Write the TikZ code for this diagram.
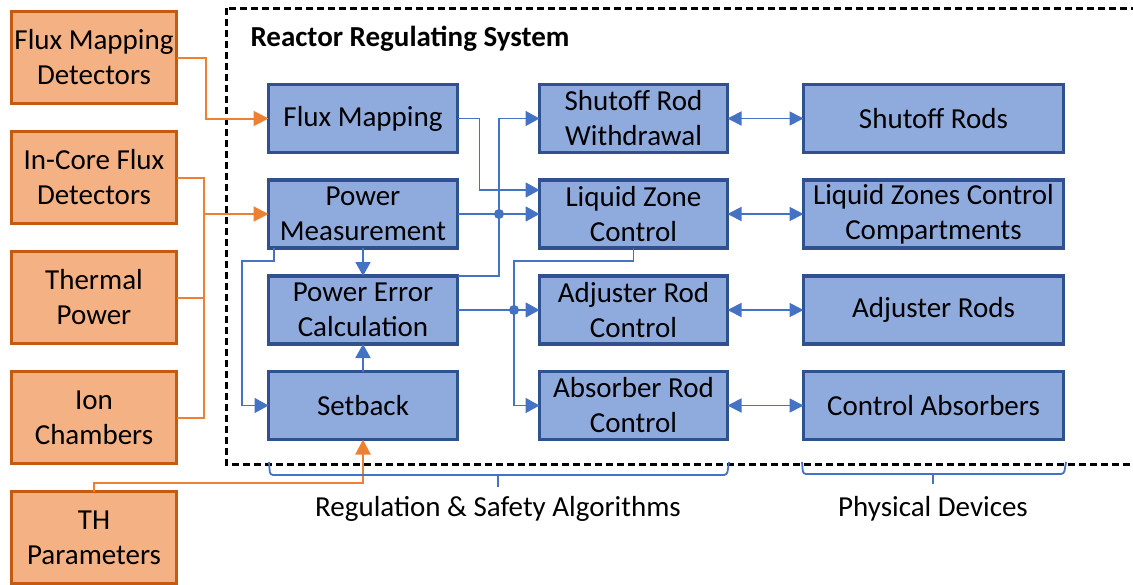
\documentclass[tikz,border=0pt]{standalone}
\usepackage{fontspec}
\setmainfont{Carlito}
\usetikzlibrary{arrows.meta}
\definecolor{ofill}{HTML}{F4B183}
\definecolor{oborder}{HTML}{C55A11}
\definecolor{oline}{HTML}{EE8033}
\definecolor{bfill}{HTML}{8FAADC}
\definecolor{bborder}{HTML}{2F528F}
\definecolor{bline}{HTML}{4472C4}
\tikzset{
  inbox/.style={draw=oborder, fill=ofill, line width=3.5pt, minimum width=165pt,
    minimum height=92pt, inner sep=0pt, outer sep=0pt, align=center},
  algbox/.style={draw=bborder, fill=bfill, line width=3.5pt, minimum height=68pt,
    inner sep=0pt, outer sep=0pt, align=center},
  colA/.style={algbox, minimum width=189pt},
  colB/.style={algbox, minimum width=188pt},
  colC/.style={algbox, minimum width=260pt},
  oconn/.style={draw=oline, line width=2pt},
  oarrow/.style={oconn, -{Triangle[length=15pt,width=15pt]}},
  bconn/.style={draw=bline, line width=1.8pt},
  barrow/.style={bconn, -{Triangle[length=14pt,width=15pt]}},
  bdouble/.style={bconn, {Triangle[length=14pt,width=14pt]}-{Triangle[length=14pt,width=14pt]}},
  junction/.style={circle, fill=bline, inner sep=0pt, minimum size=10pt},
  bracket/.style={draw=bline, line width=1.8pt, rounded corners=3pt},
}
\begin{document}
\begin{tikzpicture}[x=1pt, y=-1pt, font=\fontsize{29}{35}\selectfont]
\useasboundingbox (0,0) rectangle (1133,584);

% regulating system boundary
\draw[line width=3pt, dash pattern=on 7pt off 4pt] (226,8) rectangle (1150,464);
\node[anchor=base west, font=\fontsize{29}{35}\selectfont\bfseries] (title) at (247,46) {Reactor Regulating System};

% input signals
\node[inbox] (fmd) at (94,57.5) {Flux Mapping\\Detectors};
\node[inbox] (icf) at (94,177.5) {In-Core Flux\\Detectors};
\node[inbox] (tp) at (94,297.5) {Thermal\\Power};
\node[inbox] (ic) at (94,417.5) {Ion\\Chambers};
\node[inbox] (th) at (94,537.5) {TH\\Parameters};

% regulation and safety algorithms
\node[colA] (fm) at (363,118.5) {Flux Mapping};
\node[colA] (pm) at (363,214) {Power\\Measurement};
\node[colA] (pe) at (363,310) {Power Error\\Calculation};
\node[colA] (sb) at (363,405.5) {Setback};

\node[colB] (sr) at (633.5,118.5) {Shutoff Rod\\Withdrawal};
\node[colB] (lz) at (633.5,214) {Liquid Zone\\Control};
\node[colB] (ar) at (633.5,310) {Adjuster Rod\\Control};
\node[colB] (ab) at (633.5,405.5) {Absorber Rod\\Control};

% physical devices
\node[colC] (sro) at (933.5,118.5) {Shutoff Rods};
\node[colC] (lzc) at (933.5,214) {Liquid Zones Control\\Compartments};
\node[colC] (adj) at (933.5,310) {Adjuster Rods};
\node[colC] (ca) at (933.5,405.5) {Control Absorbers};

% orange input connections
\draw[oarrow] (fmd.east) -- ++(29,0) |- (fm.west);
\draw[oconn] (icf.east) -- ++(27,0) coordinate (bus) -- (bus |- ic.east) -- (ic.east);
\draw[oconn] (tp.east) -- (tp.east -| bus);
\draw[oarrow] (bus |- pm.west) -- (pm.west);
\draw[oarrow] (th.north) -- ++(0,-9) -| (sb.south);

% junctions
\node[junction] (j1) at (499,214) {};
\node[junction] (j2) at (514,310) {};

% blue signal connections
\draw[barrow] (fm.east) -- ++(22,0) |- ([yshift=24pt]lz.west);
\draw[barrow] (pm.east) -- (lz.west);
\draw[barrow] (pe.north east) -| (j1.center) |- (sr.west);
\draw[barrow] (pe.east) -- (ar.west);
\draw[barrow] (lz.south) -- ++(0,13) -| (j2.center) |- (ab.west);
\draw[barrow] (pm.south) -- (pe.north);
\draw[barrow] (sb.north) -- (pe.south);
\draw[barrow] ([xshift=-89pt]pm.south) -- ++(0,13) -- ++(-32,0) |- (sb.west);

% actuator links
\draw[bdouble] (sr.east) -- (sro.west);
\draw[bdouble] (lz.east) -- (lzc.west);
\draw[bdouble] (ar.east) -- (adj.west);
\draw[bdouble] (ab.east) -- (ca.west);

% group brackets
\draw[bracket] (269,462) -- (270,475) -- (727,475) -- (729,462);
\draw[bconn] (498,475) -- (498,487);
\draw[bracket] (802,462) -- (803,474) -- (1064,474) -- (1066,462);
\draw[bconn] (933,474) -- (933,484);

\node[anchor=base] (alg) at (498,516) {Regulation \& Safety Algorithms};
\node[anchor=base] (dev) at (933,516) {Physical Devices};
\end{tikzpicture}
\end{document}
